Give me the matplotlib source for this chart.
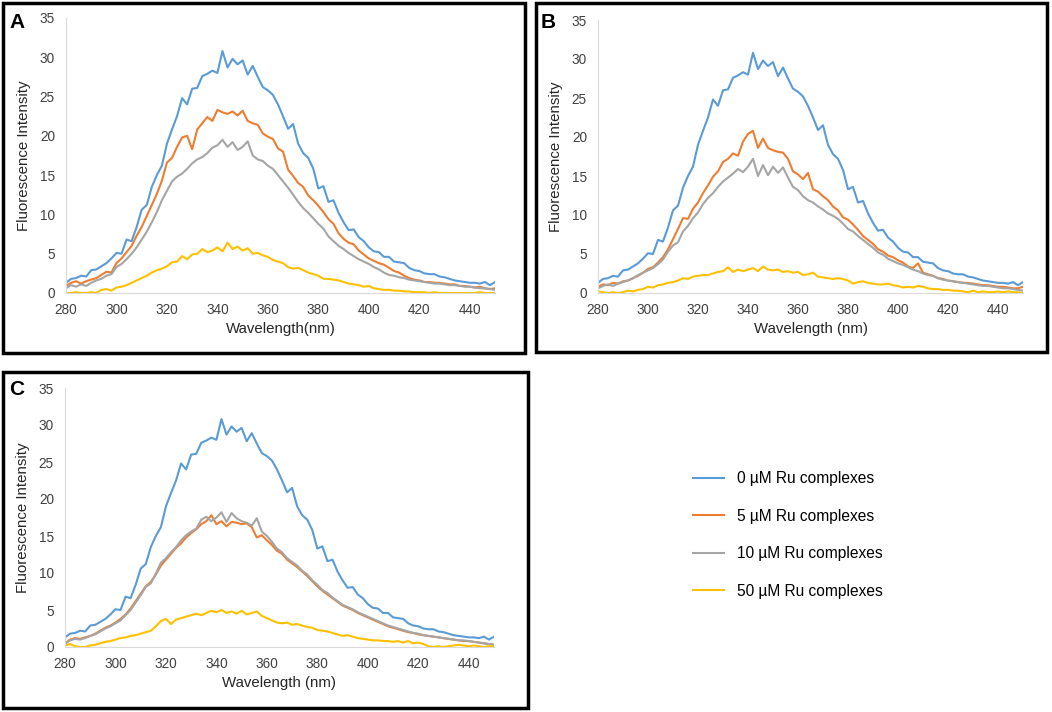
import numpy as np
import matplotlib.pyplot as plt
from matplotlib.patches import Rectangle

plt.rcParams['font.family'] = ['Liberation Sans', 'DejaVu Sans']

# Wavelength grid (nm), 2 nm steps
wl = np.arange(280, 451, 2)

# 0 uM (same control in all panels)
blue = [1.3, 1.8, 1.9, 2.2, 2.1, 2.9, 3.0, 3.4, 3.8, 4.4, 5.1, 5.0, 6.8, 6.6, 8.4, 10.6, 11.2, 13.5,
        15.0, 16.2, 19.0, 20.8, 22.5, 24.8, 24.0, 26.0, 26.1, 27.6, 27.9, 28.3, 28.0, 30.8, 28.7, 29.8,
        29.1, 29.6, 27.8, 28.9, 27.5, 26.2, 25.8, 25.2, 24.0, 22.5, 20.9, 21.5, 19.0, 17.8, 17.2, 15.8,
        13.3, 13.6, 11.6, 11.8, 10.2, 9.0, 8.0, 8.1, 7.1, 6.6, 5.8, 5.3, 5.2, 4.6, 4.6, 4.0, 3.9, 3.8,
        3.2, 2.9, 2.8, 2.5, 2.4, 2.4, 2.1, 2.0, 1.8, 1.6, 1.5, 1.4, 1.3, 1.3, 1.2, 1.4, 1.0, 1.4]

# panel A
a_orange = [0.9, 1.3, 1.5, 1.2, 1.5, 1.7, 1.9, 2.3, 2.7, 2.6, 3.8, 4.4, 5.2, 6.0, 7.3, 8.4, 9.8, 11.2,
            12.6, 14.3, 16.6, 17.2, 18.6, 19.8, 20.0, 18.3, 20.8, 21.6, 22.4, 21.9, 23.3, 23.0, 22.8,
            23.1, 22.6, 23.2, 21.9, 21.6, 21.4, 20.3, 19.9, 19.6, 18.4, 18.0, 15.7, 14.9, 14.0, 13.5,
            12.4, 11.8, 11.1, 10.3, 9.4, 8.8, 7.6, 6.9, 6.4, 6.2, 5.4, 4.9, 4.4, 4.1, 3.8, 3.6, 3.2, 2.8,
            2.6, 2.2, 1.9, 1.7, 1.6, 1.4, 1.4, 1.3, 1.3, 1.2, 1.1, 1.1, 0.9, 0.9, 0.8, 0.7, 0.8, 0.6,
            0.5, 0.6]
a_gray = [0.6, 1.0, 0.8, 1.1, 0.9, 1.3, 1.6, 1.8, 2.2, 2.4, 3.3, 3.7, 4.3, 5.0, 5.8, 6.8, 7.8, 9.0,
          10.3, 11.8, 13.0, 14.2, 14.8, 15.2, 15.8, 16.5, 17.0, 17.3, 17.8, 18.5, 18.8, 19.5, 18.6, 19.2,
          18.2, 18.6, 19.3, 17.5, 17.0, 16.8, 16.2, 15.8, 15.0, 14.2, 13.4, 12.5, 11.6, 10.8, 10.2, 9.5,
          8.8, 8.2, 7.2, 6.6, 6.0, 5.6, 5.1, 4.7, 4.3, 4.0, 3.7, 3.3, 3.0, 2.6, 2.3, 2.2, 2.0, 1.9, 1.7,
          1.6, 1.5, 1.4, 1.3, 1.2, 1.2, 1.1, 1.0, 1.0, 0.9, 0.8, 0.8, 0.7, 0.6, 0.6, 0.5, 0.4]
a_yellow = [0.0, 0.0, 0.1, 0.0, 0.0, 0.1, 0.0, 0.4, 0.5, 0.3, 0.7, 0.8, 1.0, 1.3, 1.6, 1.9, 2.2, 2.6,
            2.9, 3.1, 3.4, 3.9, 4.0, 4.7, 4.3, 4.9, 5.0, 5.6, 5.2, 5.4, 5.8, 5.3, 6.4, 5.6, 5.9, 5.4,
            5.7, 5.0, 5.1, 4.8, 4.6, 4.2, 4.0, 3.8, 3.3, 3.1, 3.2, 2.9, 2.6, 2.4, 2.2, 1.8, 1.8, 1.7,
            1.6, 1.4, 1.2, 1.1, 1.0, 0.8, 0.9, 0.6, 0.5, 0.4, 0.4, 0.3, 0.3, 0.2, 0.2, 0.1, 0.1, 0.1,
            0.0, 0.1, 0.0, 0.0, 0.0, 0.0, 0.0, 0.0, 0.0, 0.0, 0.1, 0.0, 0.0, 0.0]

# panel B
b_orange = [0.8, 1.1, 1.0, 1.3, 1.2, 1.5, 1.6, 1.9, 2.2, 2.6, 3.1, 3.3, 3.9, 4.6, 5.6, 6.9, 8.2, 9.6,
            9.5, 10.8, 11.6, 12.8, 13.8, 14.9, 15.6, 16.8, 17.2, 17.9, 17.6, 19.4, 20.4, 20.8, 18.6,
            19.8, 18.6, 18.3, 18.1, 18.0, 17.2, 15.6, 15.2, 14.6, 15.4, 13.3, 13.0, 12.4, 11.9, 11.1,
            10.6, 9.7, 9.4, 8.8, 8.1, 7.3, 6.8, 6.3, 5.6, 5.3, 4.8, 4.6, 4.2, 3.9, 3.4, 3.2, 3.8, 2.6,
            2.4, 2.2, 1.9, 1.8, 1.6, 1.5, 1.4, 1.3, 1.3, 1.2, 1.1, 1.0, 1.0, 0.9, 0.8, 0.8, 0.7, 0.6,
            0.6, 0.8]
b_gray = [0.6, 0.9, 1.1, 0.9, 1.2, 1.4, 1.6, 1.9, 2.3, 2.6, 2.9, 3.2, 3.7, 4.3, 5.3, 6.1, 6.5, 7.9,
          8.6, 9.6, 10.3, 11.4, 12.2, 12.8, 13.6, 14.3, 14.8, 15.3, 15.9, 15.5, 16.2, 17.2, 15.0, 16.4,
          15.1, 16.2, 15.4, 16.1, 14.8, 13.6, 13.2, 12.4, 11.9, 11.6, 11.1, 10.7, 10.2, 9.9, 9.5, 8.9,
          8.2, 7.9, 7.3, 6.8, 6.3, 5.8, 5.2, 4.9, 4.4, 4.1, 3.8, 3.6, 3.3, 3.0, 2.8, 2.5, 2.3, 2.2, 1.9,
          1.7, 1.6, 1.5, 1.4, 1.3, 1.2, 1.1, 1.0, 0.9, 0.9, 0.8, 0.7, 0.6, 0.6, 0.5, 0.4, 0.3]
b_yellow = [0.2, 0.1, 0.0, 0.1, 0.0, 0.1, 0.3, 0.2, 0.4, 0.5, 0.8, 0.7, 1.0, 1.1, 1.3, 1.4, 1.6, 1.9,
            1.8, 2.1, 2.2, 2.3, 2.3, 2.5, 2.7, 2.8, 3.3, 2.7, 3.0, 2.8, 3.0, 3.2, 2.8, 3.4, 3.0, 2.9,
            3.0, 2.7, 2.8, 2.6, 2.7, 2.3, 2.4, 2.6, 2.1, 2.0, 1.9, 1.8, 1.9, 1.8, 1.6, 1.2, 1.4, 1.5,
            1.3, 1.2, 1.1, 1.1, 1.2, 1.0, 0.9, 0.7, 0.8, 0.7, 0.9, 0.8, 0.6, 0.5, 0.5, 0.4, 0.4, 0.3,
            0.3, 0.2, 0.1, 0.3, 0.1, 0.2, 0.1, 0.1, 0.2, 0.1, 0.2, 0.1, 0.1, 0.0]

# panel C
c_orange = [0.5, 1.0, 1.2, 1.1, 1.3, 1.5, 1.8, 2.2, 2.6, 2.9, 3.3, 3.8, 4.4, 5.2, 6.2, 7.2, 8.2, 8.8,
            9.8, 11.0, 11.8, 12.6, 13.4, 14.0, 14.8, 15.4, 15.9, 16.6, 17.0, 17.8, 16.6, 17.0, 16.3,
            16.9, 16.8, 16.6, 16.7, 16.2, 14.8, 15.1, 14.4, 13.8, 13.0, 12.6, 11.8, 11.3, 10.8, 10.2,
            9.6, 8.9, 8.2, 7.6, 7.1, 6.6, 6.1, 5.6, 5.3, 5.0, 4.6, 4.3, 4.0, 3.7, 3.4, 3.1, 2.8, 2.6,
            2.4, 2.2, 2.0, 1.9, 1.7, 1.6, 1.5, 1.4, 1.3, 1.2, 1.1, 1.0, 0.9, 0.8, 0.8, 0.7, 0.6, 0.5,
            0.4, 0.3]
c_gray = [0.4, 0.9, 1.1, 1.0, 1.2, 1.5, 1.7, 2.1, 2.5, 2.8, 3.2, 3.6, 4.3, 5.0, 6.0, 7.0, 8.1, 8.6,
          9.9, 11.4, 12.0, 12.8, 13.5, 14.4, 15.1, 15.6, 16.0, 17.2, 17.6, 17.0, 17.5, 18.2, 16.9, 18.1,
          17.4, 17.0, 16.8, 16.4, 17.4, 15.6, 15.0, 14.2, 13.3, 12.8, 12.0, 11.5, 11.0, 10.3, 9.8, 9.0,
          8.4, 7.7, 7.3, 6.7, 6.2, 5.7, 5.4, 5.1, 4.7, 4.4, 4.1, 3.8, 3.5, 3.2, 2.9, 2.7, 2.5, 2.3, 2.1,
          1.9, 1.8, 1.6, 1.5, 1.4, 1.3, 1.2, 1.1, 1.0, 0.9, 0.9, 0.8, 0.7, 0.6, 0.5, 0.4, 0.3]
c_yellow = [0.2, 0.4, 0.1, 0.0, 0.0, 0.2, 0.3, 0.5, 0.7, 0.8, 1.0, 1.2, 1.3, 1.5, 1.6, 1.8, 2.0, 2.2,
            2.8, 3.5, 3.8, 3.1, 3.7, 3.9, 4.1, 4.3, 4.5, 4.3, 4.6, 4.9, 4.7, 5.0, 4.6, 4.8, 4.5, 4.9,
            4.4, 4.6, 4.8, 4.2, 3.9, 3.6, 3.3, 3.2, 3.3, 3.0, 3.1, 2.9, 2.7, 2.6, 2.3, 2.2, 2.1, 1.9,
            1.7, 1.5, 1.6, 1.4, 1.2, 1.1, 1.0, 0.9, 0.9, 0.8, 0.8, 0.7, 0.8, 0.6, 0.8, 0.5, 0.6, 0.4,
            0.1, 0.0, 0.1, 0.0, 0.1, 0.2, 0.3, 0.2, 0.1, 0.2, 0.1, 0.0, 0.1, 0.1]

labels = ["0 µM Ru complexes", "5 µM Ru complexes", "10 µM Ru complexes", "50 µM Ru complexes"]
colors = ["#5B9BD5", "#ED7D31", "#A5A5A5", "#FFC000"]

panels = [
    ("A", "Wavelength(nm)", [blue, a_orange, a_gray, a_yellow]),
    ("B", "Wavelength (nm)", [blue, b_orange, b_gray, b_yellow]),
    ("C", "Wavelength (nm)", [blue, c_orange, c_gray, c_yellow]),
]

W, H = 1052, 712
fig = plt.figure(figsize=(W / 100, H / 100), dpi=100)

# pixel layouts: axes (x0, x1, ytop, ybottom), box (x0, x1, ytop, ybottom)
ax_px = [(66, 495, 18, 293), (598, 1023, 20, 293), (65, 494, 388, 647)]
box_px = [(3, 525, 3, 353), (536, 1047, 3, 352), (3, 528, 372, 708)]
letter_px = [(9, 22), (541, 22), (9, 390)]

def fr(x0, x1, yt, yb):
    return [x0 / W, 1 - yb / H, (x1 - x0) / W, (yb - yt) / H]

for (letter, xlabel, series), apx, bpx, lpx in zip(panels, ax_px, box_px, letter_px):
    ax = fig.add_axes(fr(*apx))
    for y, c, lab in zip(series, colors, labels):
        ax.plot(wl, y, color=c, lw=1.5, label=lab)
    ax.set_xlim(280, 450)
    ax.set_ylim(0, 35)
    ax.set_xticks(np.arange(280, 441, 20))
    ax.set_yticks(np.arange(0, 36, 5))
    ax.tick_params(length=0, labelsize=9.8, colors="#404040")
    ax.tick_params(axis="y", pad=8)
    ax.tick_params(axis="x", pad=7)
    for s in ["top", "right"]:
        ax.spines[s].set_visible(False)
    ax.spines["left"].set_color("#D9D9D9")
    ax.spines["bottom"].set_color("#D9D9D9")
    ax.set_xlabel(xlabel, fontsize=10.8, color="#262626", labelpad=4)
    ax.set_ylabel("Fluorescence Intensity", fontsize=10.8, color="#262626", labelpad=6)
    bx = fr(*bpx)
    fig.patches.append(Rectangle((bx[0], bx[1]), bx[2], bx[3], transform=fig.transFigure,
                                 fill=False, edgecolor="black", lw=2.5))
    fig.text(lpx[0] / W, 1 - lpx[1] / H, letter, fontsize=15, fontweight="bold", va="center")

handles, labs = ax.get_legend_handles_labels()
fig.legend(handles, labs, loc="center left", bbox_to_anchor=(679 / W, 1 - 535 / H),
           frameon=False, fontsize=11.2, handlelength=2.0, labelspacing=1.45, handletextpad=0.8)

fig.savefig("out.png", dpi=100)
